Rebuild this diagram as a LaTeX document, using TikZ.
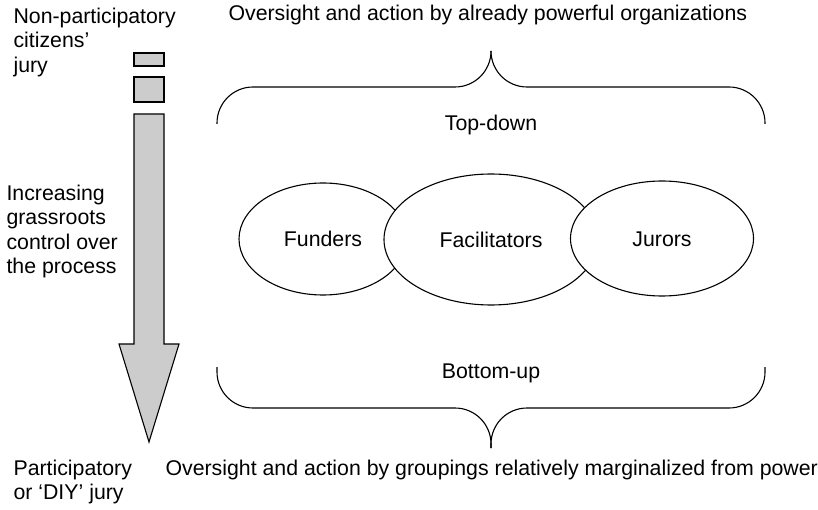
\documentclass[tikz,border=0pt]{standalone}
\usepackage{fontspec}
\setmainfont{Liberation Sans}
\usetikzlibrary{shapes.geometric}
\begin{document}
\begin{tikzpicture}[x=1pt, y=-1pt, line width=1.1pt,
		every node/.style={inner sep=0pt, font=\fontsize{21.3}{24.5}\selectfont},
		actor/.style={ellipse, draw, fill=white, text height=15.5pt, text depth=0pt},
		brace/.style={rounded corners=36pt},
		block/.style={draw, fill=gray!40}]
		\useasboundingbox (0,0) rectangle (818,510);

		% Tekster til venstre
		\node[anchor=north west, align=left] (nonpart) at (13,7.5) {Non-participatory\\citizens'\\jury};
		\node[anchor=north west, align=left] (grass) at (6,184.5) {Increasing\\grassroots\\control over\\the process};
		\node[anchor=north west, align=left] (diy) at (13,459.5) {Participatory\\or `DIY' jury};

		% Pil nedover (stykkevis)
		\draw[block] (134,53) rectangle (164,66);
		\draw[block] (134,77) rectangle (164,102);
		\draw[block] (134,114) -- (164,114) -- (164,344) -- (179,344) -- (149,442)
			-- (119,344) -- (134,344) -- cycle;

		% Overskrift og klamme oppe
		\node[anchor=base west] (topnote) at (228,21) {Oversight and action by already powerful organizations};
		\draw[brace] (217,124) |- (491,87) -- (491,51);
		\draw[brace] (765,124) |- (491,87) -- (491,51);
		\node[anchor=base] (topdown) at (491,131) {Top-down};

		% Aktorene
		\node[actor, minimum width=168pt, minimum height=112pt] (funders) at (323,239) {Funders};
		\node[actor, minimum width=214pt, minimum height=131pt] (facil) at (491,239.5) {Facilitators};
		\node[actor, minimum width=183pt, minimum height=115pt] (jurors) at (662,238.5) {Jurors};

		% Klamme og tekst nede
		\node[anchor=base] (bottomup) at (491,378) {Bottom-up};
		\draw[brace] (217,367) |- (491,408) -- (491,448);
		\draw[brace] (765,367) |- (491,408) -- (491,448);
		\node[anchor=base west] (bottomnote) at (165,475) {Oversight and action by groupings relatively marginalized from power};
	\end{tikzpicture}
\end{document}
